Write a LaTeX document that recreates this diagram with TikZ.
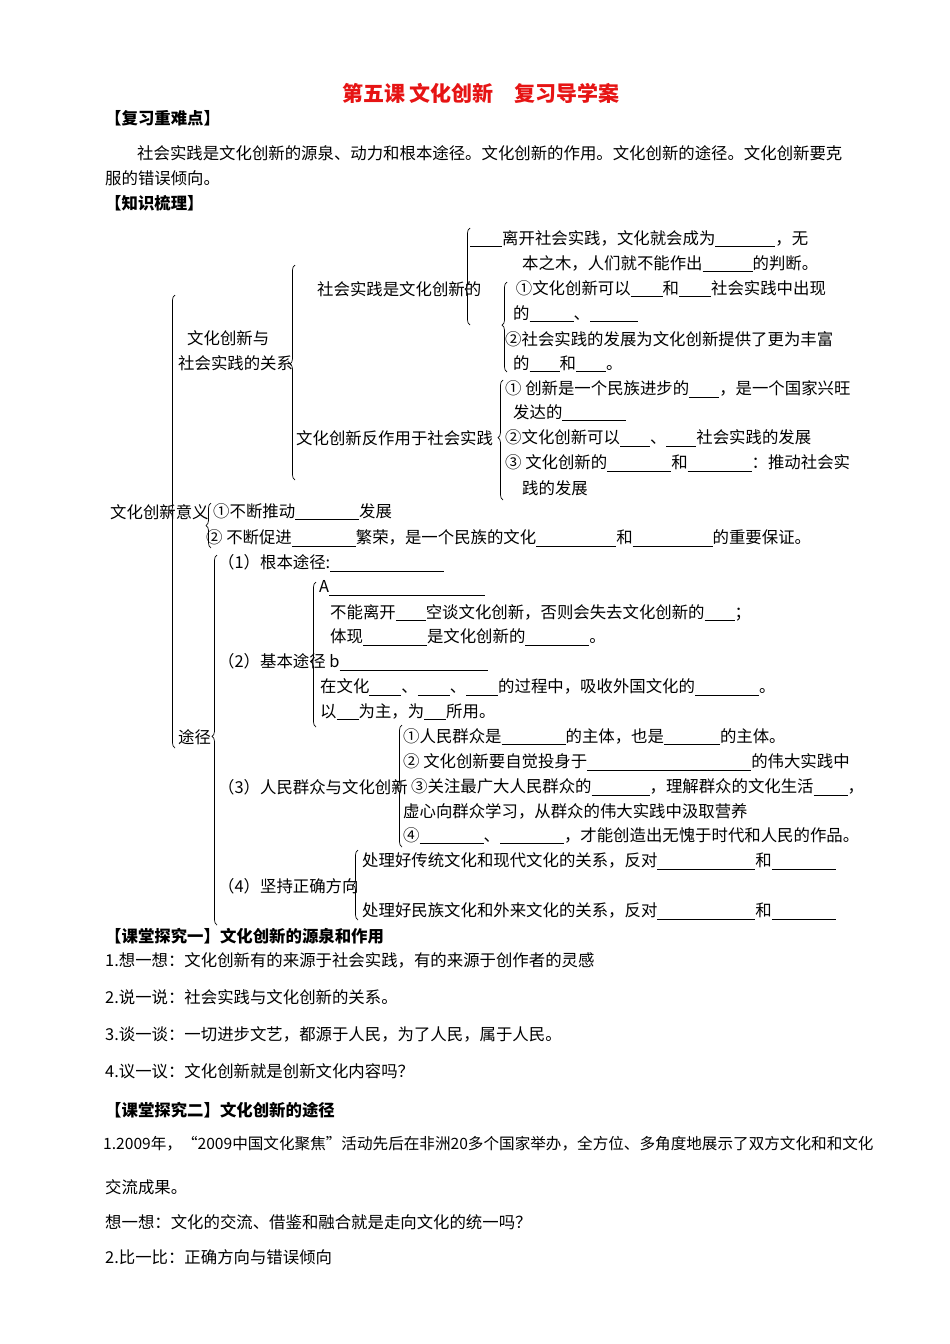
\documentclass[tikz,border=0pt]{standalone}
\usepackage{fontspec}
\setmainfont{Noto Sans CJK SC}
\usetikzlibrary{decorations.pathreplacing}
\newcommand\blank[1]{\rule[-2.5pt]{#1pt}{0.7pt}}
\definecolor{titlered}{RGB}{230,20,20}
\tikzset{txt/.style={anchor=west,inner sep=0pt,font=\fontsize{16.4}{19}\selectfont},
 hd/.style={txt,font=\fontsize{16.4}{19}\selectfont\bfseries},
 br/.style={decorate,draw,line width=0.7pt,decoration={brace,amplitude=5pt,aspect=#1}}}
\begin{document}
\begin{tikzpicture}[x=1pt,y=-1pt]
\useasboundingbox (0,0) rectangle (950,1344);
\node[anchor=center,inner sep=0pt,text=titlered,font=\fontsize{21}{25}\selectfont\bfseries] (title) at (481,93) {第五课\ 文化创新\quad 复习导学案};
\node[hd] (h1) at (105,118) {【复习重难点】};
\node[txt] (p1) at (137,153) {社会实践是文化创新的源泉、动力和根本途径。文化创新的作用。文化创新的途径。文化创新要克};
\node[txt] (p2) at (105,178) {服的错误倾向。};
\node[hd] (h2) at (105,203) {【知识梳理】};
% braces
\draw[br=0.52] (175,748) -- (175,295);
\draw[br=0.54] (295,480) -- (295,265);
\draw[br=0.37] (470,325) -- (470,228);
\draw[br=0.52] (507,372) -- (507,282);
\draw[br=0.52] (503,500) -- (503,380);
\draw[br=0.5] (211,548) -- (211,503);
\draw[br=0.51] (217,925) -- (217,555);
\draw[br=0.45] (316,727) -- (316,582);
\draw[br=0.49] (402,847) -- (402,725);
\draw[br=0.5] (358,920) -- (358,850);
% level texts
\node[txt] (a1) at (187,338) {文化创新与};
\node[txt] (a2) at (178,363) {社会实践的关系};
\node[txt] (b1) at (317,289) {社会实践是文化创新的};
\node[txt] (c1) at (470,239) {\blank{32}离开社会实践，文化就会成为\blank{60}，无};
\node[txt] (c2) at (522,264) {本之木，人们就不能作出\blank{50}的判断。};
\node[txt] (d1) at (513,289) {\,①文化创新可以\blank{32}和\blank{32}社会实践中出现};
\node[txt] (d2) at (513,314) {的\blank{44}、\blank{48}};
\node[txt] (d3) at (505,339) {②社会实践的发展为文化创新提供了更为丰富};
\node[txt] (d4) at (513,364) {的\blank{30}和\blank{30}。};
\node[txt] (b2) at (296,438) {文化创新反作用于社会实践};
\node[txt] (e1) at (505,389) {① 创新是一个民族进步的\blank{30}，是一个国家兴旺};
\node[txt] (e2) at (513,413) {发达的\blank{64}};
\node[txt] (e3) at (505,438) {②文化创新可以\blank{30}、\blank{30}社会实践的发展};
\node[txt] (e4) at (505,463) {③ 文化创新的\blank{64}和\blank{64}：推动社会实};
\node[txt] (e5) at (522,488) {践的发展};
\node[txt] (m0) at (110,512) {文化创新意义};
\node[txt] (m1) at (213,512) {①不断推动\blank{64}发展};
\node[txt] (m2) at (206,538) {② 不断促进\blank{64}繁荣，是一个民族的文化\blank{80}和\blank{80}的重要保证。};
\node[txt] (w0) at (178,737) {途径};
\node[txt] (w1) at (218,563) {（1）根本途径:\blank{114}};
\node[txt] (w2a) at (319,588) {A\blank{156}};
\node[txt] (w2b) at (330,613) {不能离开\blank{30}空谈文化创新，否则会失去文化创新的\blank{30}；};
\node[txt] (w2c) at (330,637) {体现\blank{64}是文化创新的\blank{64}。};
\node[txt] (w2) at (218,662) {（2）基本途径\ b\blank{148}};
\node[txt] (w2d) at (320,687) {在文化\blank{32}、\blank{32}、\blank{32}的过程中，吸收外国文化的\blank{64}。};
\node[txt] (w2e) at (320,712) {以\blank{22}为主，为\blank{22}所用。};
\node[txt] (w3a) at (403,737) {①人民群众是\blank{64}的主体，也是\blank{56}的主体。};
\node[txt] (w3b) at (403,762) {② 文化创新要自觉投身于\blank{164}的伟大实践中};
\node[txt] (w3) at (218,787) {（3）人民群众与文化创新};
\node[txt] (w3c) at (411,787) {③关注最广大人民群众的\blank{58}，理解群众的文化生活\blank{34}，};
\node[txt] (w3d) at (403,811) {虚心向群众学习，从群众的伟大实践中汲取营养};
\node[txt] (w3e) at (403,836) {④\blank{64}、\blank{64}，才能创造出无愧于时代和人民的作品。};
\node[txt] (w4) at (218,886) {（4）坚持正确方向};
\node[txt] (w4a) at (362,861) {处理好传统文化和现代文化的关系，反对\blank{98}和\blank{64}};
\node[txt] (w4b) at (362,911) {处理好民族文化和外来文化的关系，反对\blank{98}和\blank{64}};
% lower section
\node[hd] (h3) at (105,936) {【课堂探究一】文化创新的源泉和作用};
\node[txt] (q1) at (105,960) {1.想一想：文化创新有的来源于社会实践，有的来源于创作者的灵感};
\node[txt] (q2) at (105,997) {2.说一说：社会实践与文化创新的关系。};
\node[txt] (q3) at (105,1034) {3.谈一谈：一切进步文艺，都源于人民，为了人民，属于人民。};
\node[txt] (q4) at (105,1071) {4.议一议：文化创新就是创新文化内容吗？};
\node[hd] (h4) at (105,1110) {【课堂探究二】文化创新的途径};
\node[txt,font=\fontsize{15.6}{18}\selectfont] (r1) at (103,1144) {1.2009年，“2009中国文化聚焦”活动先后在非洲20多个国家举办，全方位、多角度地展示了双方文化和和文化};
\node[txt] (r2) at (105,1187) {交流成果。};
\node[txt] (r3) at (105,1222) {想一想：文化的交流、借鉴和融合就是走向文化的统一吗？};
\node[txt] (r4) at (105,1257) {2.比一比：正确方向与错误倾向};
\end{tikzpicture}
\end{document}
